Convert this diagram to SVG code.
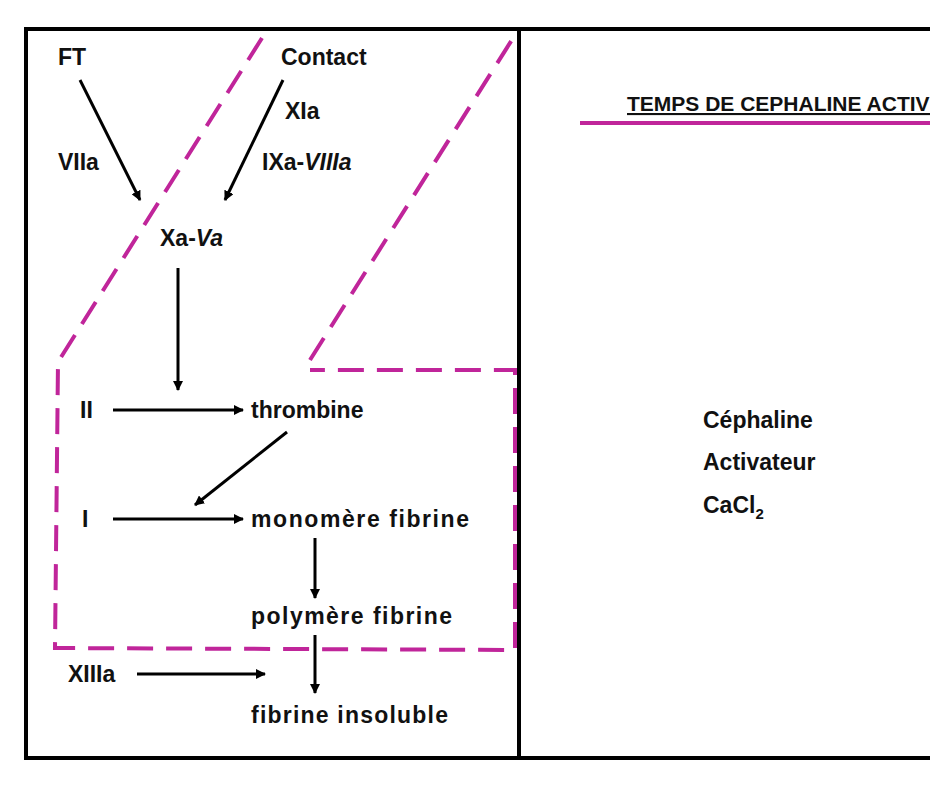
<svg xmlns="http://www.w3.org/2000/svg" width="930" height="787" viewBox="0 0 930 787">
<defs>
<marker id="ah" markerWidth="10" markerHeight="10" refX="9" refY="5" orient="auto" markerUnits="userSpaceOnUse"><path d="M0,0 L10,5 L0,10 z" fill="#000"/></marker>
<style>
text{font-family:"Liberation Sans",Arial,sans-serif;font-weight:bold;font-size:23px;fill:#111}
.c line{stroke:#000;stroke-width:3;marker-end:url(#ah)}
.d{fill:none;stroke:#c0259a;stroke-width:4;stroke-dasharray:26,13}
</style>
</defs>
<rect width="930" height="787" fill="#fff"/>
<rect x="26" y="29" width="920" height="729" fill="none" stroke="#000" stroke-width="4"/>
<line x1="519" y1="29" x2="519" y2="758" stroke="#000" stroke-width="4"/>
<g id="zone">
<polyline class="d" points="262,38 58,362 55,648 515,650 515,370 310,370"/>
<line class="d" x1="310" y1="360" x2="515" y2="35"/>
</g>
<g id="nodes">
<g id="ft"><text x="58" y="65">FT</text></g>
<g id="contact"><text x="281" y="65">Contact</text></g>
<g id="xia"><text x="285" y="119">XIa</text></g>
<g id="viia"><text x="58" y="170">VIIa</text></g>
<g id="ixa"><text x="262" y="170">IXa-<tspan font-style="italic">VIIIa</tspan></text></g>
<g id="xa"><text x="160" y="246">Xa-<tspan font-style="italic">Va</tspan></text></g>
<g id="ii"><text x="80" y="418">II</text></g>
<g id="thrombine"><text x="251" y="418">thrombine</text></g>
<g id="i"><text x="82" y="527">I</text></g>
<g id="mono"><text x="251" y="527" textLength="218">monomère fibrine</text></g>
<g id="poly"><text x="251" y="624" textLength="201">polymère fibrine</text></g>
<g id="xiiia"><text x="68" y="682">XIIIa</text></g>
<g id="insol"><text x="251" y="723" textLength="197">fibrine insoluble</text></g>
<g id="title"><text x="627" y="111" style="font-size:21px" text-decoration="underline">TEMPS DE CEPHALINE ACTIVÉ</text>
<line x1="580" y1="123" x2="930" y2="123" stroke="#c0259a" stroke-width="4"/></g>
<g id="reag"><text x="703" y="428">Céphaline</text><text x="703" y="470">Activateur</text><text x="703" y="513">CaCl<tspan font-size="15" dy="6">2</tspan></text></g>
</g>
<g class="c" id="connectors">
<line x1="80" y1="80" x2="140" y2="200"/>
<line x1="283" y1="80" x2="225" y2="200"/>
<line x1="178" y1="268" x2="178" y2="390"/>
<line x1="113" y1="410" x2="243" y2="410"/>
<line x1="287" y1="432" x2="195" y2="505"/>
<line x1="113" y1="519" x2="243" y2="519"/>
<line x1="315" y1="538" x2="315" y2="598"/>
<line x1="315" y1="635" x2="315" y2="693"/>
<line x1="137" y1="674" x2="265" y2="674"/>
</g>
</svg>
